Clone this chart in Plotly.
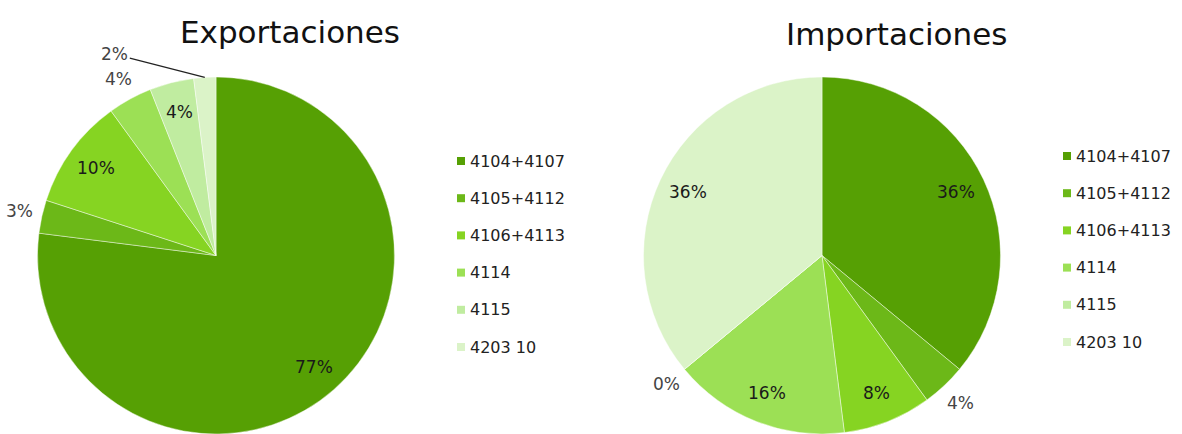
import math
import plotly.graph_objects as go

# Product groups (HS headings) and their share of trade, in percent
labels = ["4104+4107", "4105+4112", "4106+4113", "4114", "4115", "4203 10"]
export_pct = [77, 3, 10, 4, 4, 2]
import_pct = [36, 4, 8, 16, 0, 36]

titles = ["Exportaciones", "Importaciones"]

colors = ["#56a004", "#6cb818", "#86d422", "#9ce055", "#c0eca0", "#dbf3c8"]

# where each percentage label sits: "in" inside the slice, "out" just outside,
# "lead" outside with a leader line
export_place = ["in", "out", "in", "out", "in", "lead"]
import_place = ["in", "out", "in", "in", "out", "in"]

W, H = 1182, 434
PIE_TOP = 77                      # px from top of the figure
PIE_D = H - PIE_TOP               # pie diameter in px
PIE_CX = [216, 822]               # pie centres in px
IN_R, OUT_R = 0.83, 1.13
LEAD_OFFSET = (-90, -23)
LEGEND_X = [457, 1063]
LEGEND_Y0 = [161, 156]
LEGEND_STEP = 37.2
SQ = 8

FONT = "DejaVu Sans"


def px(x):
    return x / W


def py(y):
    return 1 - y / H


fig = go.Figure()
annotations = []
shapes = []

for k, (vals, place) in enumerate([(export_pct, export_place), (import_pct, import_place)]):
    cx = PIE_CX[k]
    x0, x1 = px(cx - PIE_D / 2), px(cx + PIE_D / 2)
    fig.add_trace(go.Pie(
        labels=labels,
        values=vals,
        sort=False,
        direction="clockwise",
        rotation=0,
        marker=dict(colors=colors, line=dict(color="rgba(255,255,255,0.55)", width=0.8)),
        textinfo="none",
        hoverinfo="label+percent",
        showlegend=False,
        domain=dict(x=[x0, x1], y=[0, py(PIE_TOP)]),
    ))

    # percentage labels at each slice's mid angle
    total = sum(vals)
    r = PIE_D / 2
    cy = PIE_TOP + r
    cum = 0
    for v, where in zip(vals, place):
        mid = (cum + v / 2) / total * 2 * math.pi
        cum += v
        text = f"{round(100 * v / total)}%"
        if where == "lead":
            ex = cx + r * math.sin(mid)
            ey = cy - r * math.cos(mid)
            annotations.append(dict(
                x=px(ex), y=py(ey), xref="paper", yref="paper",
                text=text, showarrow=True, arrowhead=0, arrowwidth=1.2,
                arrowcolor="#222", ax=LEAD_OFFSET[0], ay=LEAD_OFFSET[1],
                standoff=0, font=dict(family=FONT, size=17, color="#444"),
            ))
            continue
        f = IN_R if where == "in" else OUT_R
        lx = cx + f * r * math.sin(mid)
        ly = cy - f * r * math.cos(mid)
        annotations.append(dict(
            x=px(lx), y=py(ly), xref="paper", yref="paper",
            text=text, showarrow=False, xanchor="center", yanchor="middle",
            font=dict(family=FONT, size=17, color="#1a1a1a" if where == "in" else "#444"),
        ))

    # legend: colour square plus label
    for i, (lab, col) in enumerate(zip(labels, colors)):
        yc = LEGEND_Y0[k] + i * LEGEND_STEP
        lx0 = LEGEND_X[k]
        shapes.append(dict(
            type="rect", xref="paper", yref="paper",
            x0=px(lx0), x1=px(lx0 + SQ), y0=py(yc - SQ / 2), y1=py(yc + SQ / 2),
            fillcolor=col, line=dict(width=0),
        ))
        annotations.append(dict(
            x=px(lx0 + SQ + 3), y=py(yc), xref="paper", yref="paper",
            text=lab, showarrow=False, xanchor="left", yanchor="middle",
            font=dict(family=FONT, size=16, color="#222"),
        ))

# chart titles
annotations.append(dict(x=px(290), y=py(32), xref="paper", yref="paper", text=titles[0],
                        showarrow=False, xanchor="center", yanchor="middle",
                        font=dict(family=FONT, size=31, color="#111")))
annotations.append(dict(x=px(896), y=py(34), xref="paper", yref="paper", text=titles[1],
                        showarrow=False, xanchor="center", yanchor="middle",
                        font=dict(family=FONT, size=31, color="#111")))

fig.update_layout(
    width=W, height=H,
    margin=dict(l=0, r=0, t=0, b=0),
    paper_bgcolor="white",
    plot_bgcolor="white",
    annotations=annotations,
    shapes=shapes,
)

fig.write_html("out.html")
